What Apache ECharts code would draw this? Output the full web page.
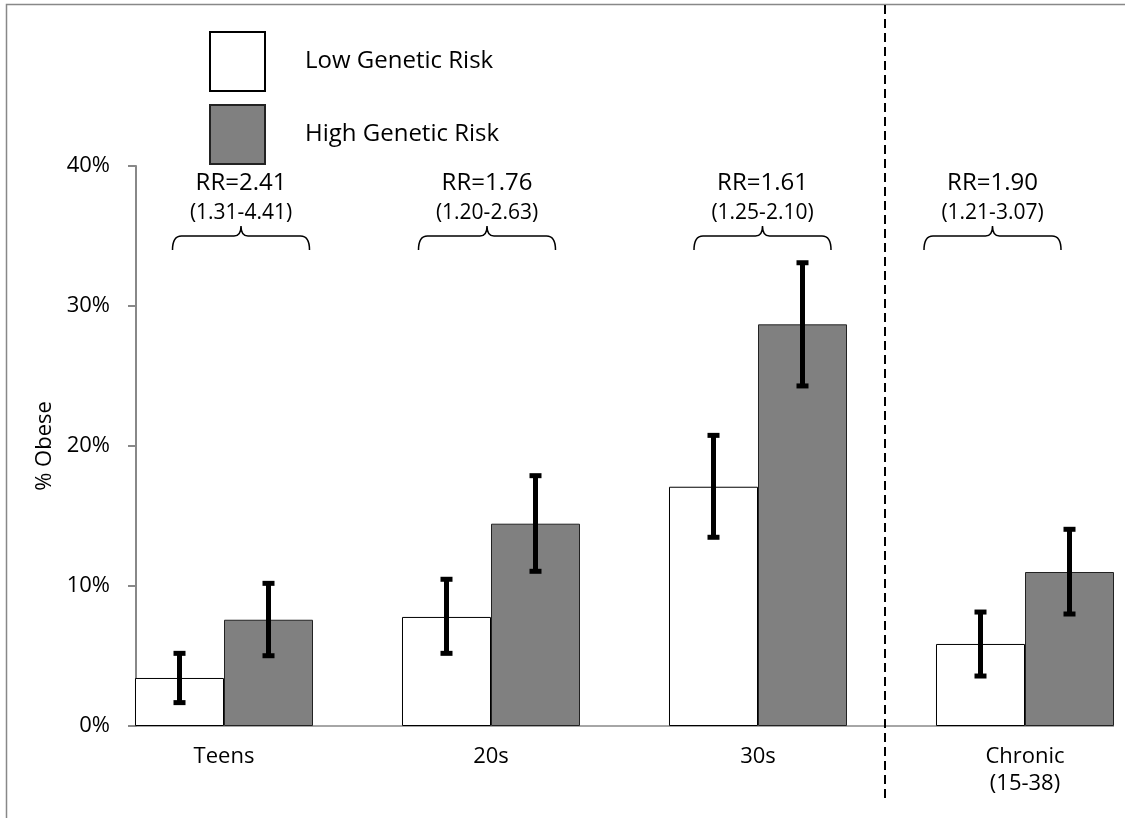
<!DOCTYPE html>
<html><head><meta charset="utf-8">
<script src="https://cdn.jsdelivr.net/npm/echarts@6/dist/echarts.min.js"></script>
<style>html,body{margin:0;padding:0;background:#fff}#c{width:1125px;height:818px}</style>
</head><body><div id="c"></div>
<script>
// ---- data ----
const categories = ['Teens', '20s', '30s', 'Chronic\n(15-38)'];
const lowRisk = [3.43, 7.79, 17.09, 5.86];
const lowErrLow = [1.67, 5.19, 13.48, 3.57];
const lowErrHigh = [5.19, 10.48, 20.76, 8.14];
const highRisk = [7.59, 14.45, 28.69, 11.0];
const highErrLow = [5.02, 11.05, 24.29, 8.0];
const highErrHigh = [10.19, 17.88, 33.09, 14.05];
const rrText = ['RR=2.41', 'RR=1.76', 'RR=1.61', 'RR=1.90'];
const ciText = ['(1.31-4.41)', '(1.20-2.63)', '(1.25-2.10)', '(1.21-3.07)'];
const yTicks = [0, 10, 20, 30, 40];

// ---- layout constants (pixels) ----
const FONT = '"Open Sans", "Liberation Sans", sans-serif';
const annNudge = [17, -4, 4.5, -32.5]; // horizontal nudge of RR annotations from group centre

const chart = echarts.init(document.getElementById('c'), null, {renderer: 'canvas'});

function errRender(side) {
  return function (params, api) {
    const idx = api.value(0);
    const c = api.coord([idx, api.value(1)]);
    const hi = api.coord([idx, api.value(2)]);
    const band = api.size([1, 0])[0];
    const bw = band / 3;
    const x = c[0] + (side === 0 ? -bw / 2 : bw / 2);
    return {
      type: 'group',
      children: [
        {type: 'line', shape: {x1: x, y1: c[1], x2: x, y2: hi[1]}, style: {stroke: '#000', lineWidth: 5}},
        {type: 'rect', shape: {x: x - 6, y: c[1] - 2.5, width: 12, height: 5}, style: {fill: '#000'}},
        {type: 'rect', shape: {x: x - 6, y: hi[1] - 2.5, width: 12, height: 5}, style: {fill: '#000'}}
      ]
    };
  };
}

function annRender(params, api) {
  const idx = api.value(0);
  const top = api.coord([idx, yTicks[yTicks.length - 1]]);
  const cx = top[0] + annNudge[idx];
  const y0 = top[1];
  const by = y0 + 70;
  const h = 68.5;
  const path = 'M' + (cx - h) + ',' + (by + 14) +
    ' Q' + (cx - h) + ',' + by + ' ' + (cx - h + 9) + ',' + by +
    ' L' + (cx - 7) + ',' + by +
    ' Q' + cx + ',' + by + ' ' + cx + ',' + (by - 10) +
    ' Q' + cx + ',' + by + ' ' + (cx + 7) + ',' + by +
    ' L' + (cx + h - 9) + ',' + by +
    ' Q' + (cx + h) + ',' + by + ' ' + (cx + h) + ',' + (by + 14);
  return {
    type: 'group',
    children: [
      {type: 'text', style: {text: rrText[idx], x: cx, y: y0 + 17, align: 'center', verticalAlign: 'middle', font: '24px ' + FONT, fill: '#000'}},
      {type: 'text', style: {text: ciText[idx], x: cx, y: y0 + 47, align: 'center', verticalAlign: 'middle', font: '21px ' + FONT, fill: '#000'}},
      {type: 'path', shape: {pathData: path}, style: {stroke: '#000', lineWidth: 1.5, fill: null}}
    ]
  };
}

const option = {
  animation: false,
  backgroundColor: '#fff',
  textStyle: {fontFamily: FONT},
  grid: {left: 90.5, right: -33.5, top: 166, bottom: 92, outerBoundsMode: 'none', containLabel: false},
  legend: {
    data: ['Low Genetic Risk', 'High Genetic Risk'],
    orient: 'vertical', left: 209, top: 31, padding: 0,
    itemWidth: 55, itemHeight: 59, itemGap: 12, icon: 'rect',
    textStyle: {fontSize: 24, color: '#000', fontFamily: FONT, padding: [0, 0, 0, 35]}
  },
  xAxis: {
    type: 'category', data: categories, boundaryGap: true,
    axisLine: {show: false}, axisTick: {show: false},
    axisLabel: {fontSize: 22, color: '#000', margin: 17, lineHeight: 27, fontFamily: FONT}
  },
  yAxis: {
    type: 'value', min: yTicks[0], max: yTicks[yTicks.length - 1], interval: 10, offset: -45.5,
    name: '% Obese', nameLocation: 'middle', nameGap: 68, nameRotate: 90,
    nameTextStyle: {fontSize: 22, color: '#000', fontFamily: FONT},
    axisLine: {show: true, lineStyle: {color: '#888', width: 2}},
    axisTick: {show: true, length: 8, lineStyle: {color: '#888', width: 2}},
    splitLine: {show: false},
    axisLabel: {formatter: '{value}%', fontSize: 22, color: '#000', margin: 26, fontFamily: FONT}
  },
  series: [
    {name: 'Low Genetic Risk', type: 'bar', data: lowRisk, barGap: '0%', barCategoryGap: '33.333%',
     itemStyle: {color: '#fff', borderColor: '#000', borderWidth: 1}},
    {name: 'High Genetic Risk', type: 'bar', data: highRisk, barGap: '0%', barCategoryGap: '33.333%',
     itemStyle: {color: '#808080', borderColor: '#222', borderWidth: 1}},
    {name: 'errLow', type: 'custom', renderItem: errRender(0), z: 10,
     data: lowRisk.map((v, i) => [i, lowErrLow[i], lowErrHigh[i]]), silent: true},
    {name: 'errHigh', type: 'custom', renderItem: errRender(1), z: 10,
     data: highRisk.map((v, i) => [i, highErrLow[i], highErrHigh[i]]), silent: true},
    {name: 'ann', type: 'custom', renderItem: annRender, z: 10,
     data: categories.map((c, i) => [i]), silent: true}
  ]
};
chart.setOption(option);

// axis baseline, divider and frame
const c0 = chart.convertToPixel({xAxisIndex: 0}, 0);
const c2 = chart.convertToPixel({xAxisIndex: 0}, 2);
const c3 = chart.convertToPixel({xAxisIndex: 0}, 3);
const y0 = chart.convertToPixel({yAxisIndex: 0}, 0);
const band = c3 - c2;
const bw = band / 3;
chart.setOption({
  graphic: [
    {type: 'rect', shape: {x: 6.5, y: 4.5, width: 1200, height: 900}, style: {fill: null, stroke: '#888', lineWidth: 1.5}, silent: true},
    {type: 'line', shape: {x1: c0 - bw, y1: y0, x2: c3 + bw, y2: y0}, style: {stroke: '#888', lineWidth: 1.5}, silent: true},
    {type: 'line', shape: {x1: (c2 + c3) / 2 - 6.5, y1: 5, x2: (c2 + c3) / 2 - 6.5, y2: 800}, style: {stroke: '#000', lineWidth: 2, lineDash: [9, 5]}, silent: true}
  ]
});
</script>
</body></html>
